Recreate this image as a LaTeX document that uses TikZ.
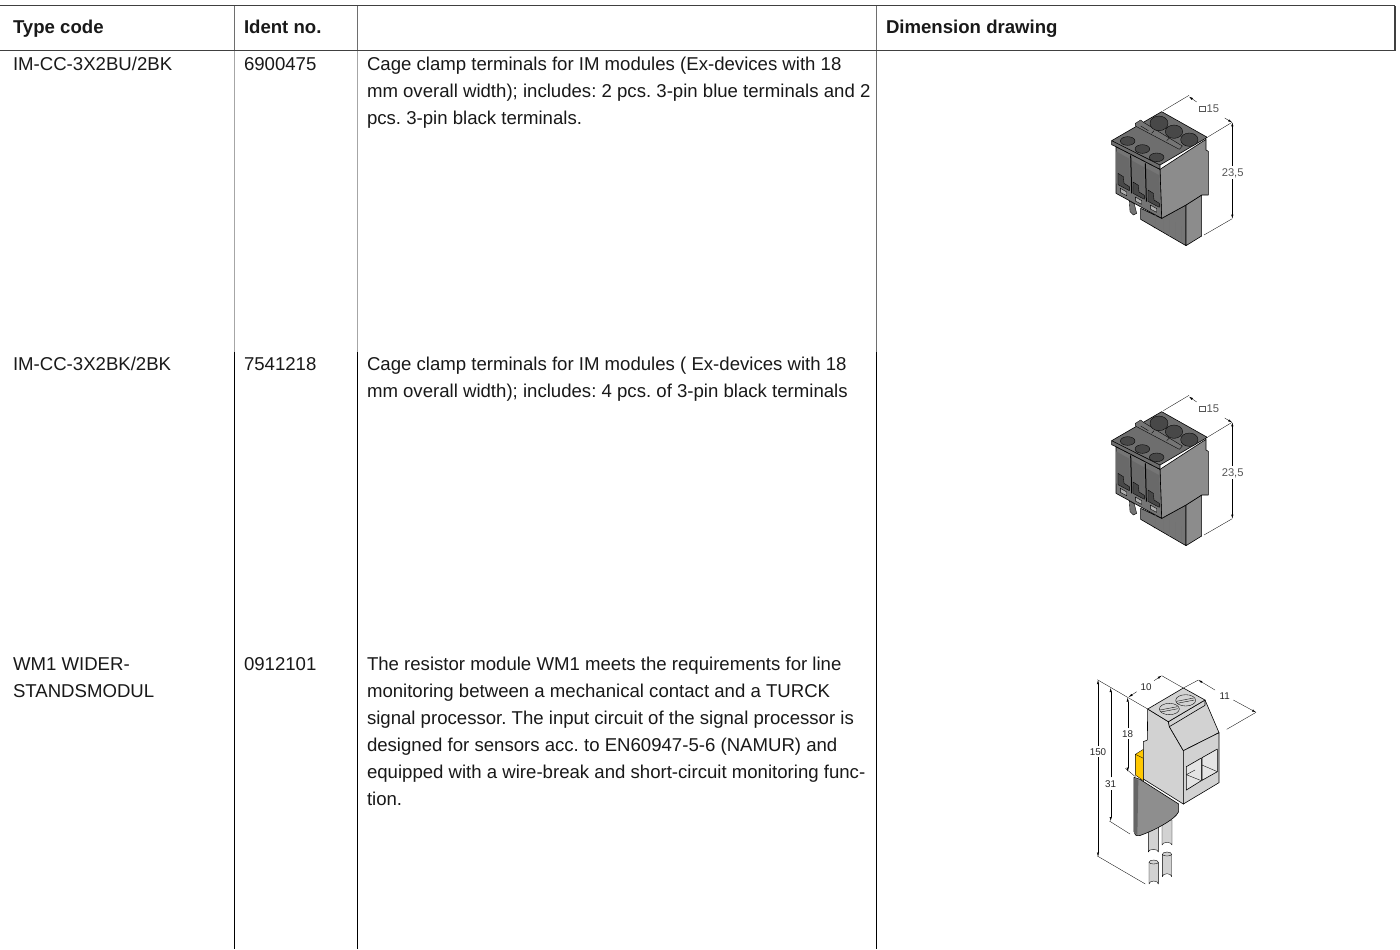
\documentclass[tikz,border=0pt]{standalone}
\usepackage{fontspec}
\setmainfont{Liberation Sans}
\usetikzlibrary{arrows.meta}
\frenchspacing
\definecolor{rule}{HTML}{404040}
\definecolor{midv}{HTML}{6E6E6E}
\definecolor{ttop}{HTML}{6E6E6E}
\definecolor{tside}{HTML}{8C8C8C}
\definecolor{tfront}{HTML}{757575}
\definecolor{tdark}{HTML}{484848}
\definecolor{wlight}{HTML}{D2D2D2}
\definecolor{wgrip}{HTML}{8E8E8E}
\definecolor{wamber}{HTML}{FFC800}
\definecolor{dimtxt}{HTML}{555555}
\tikzset{
  cell/.style={anchor=base west,inner sep=0pt,outer sep=0pt,font=\fontsize{9.3}{11}\selectfont,text=black!90},
  head/.style={cell,font=\fontsize{9.3}{11}\selectfont\bfseries},
  dimlab/.style={inner sep=0pt,outer sep=0pt,text=dimtxt,font=\fontsize{5.6}{6}\selectfont},
  dimlabw/.style={inner sep=0pt,outer sep=0pt,text=black!85,font=\fontsize{4.9}{6}\selectfont},
  ext/.style={line width=0.16pt,draw=black},
  ol/.style={line width=0.3pt,draw=black,line join=round},
  thin ol/.style={line width=0.18pt,draw=black,line join=round},
}
% terminal drawn in 3x-zoom coordinates
\newcommand{\terminal}[2]{%
\begin{scope}[shift={(#1,#2)},x=0.5pt/3,y=-0.5pt/3]
  % pins behind
  \filldraw[fill=tfront,thin ol] (148,362)--(163,372)--(170,400)--(160,405)--(150,395)--cycle;
  \filldraw[fill=tfront,thin ol] (205,395)--(232,410)--(236,432)--(224,444)--(210,425)--cycle;
  % lower block
  \filldraw[fill=tfront,ol] (182,385)--(245,415)--(318,375)--(318,497)--(182,418)--cycle;
  \foreach \xx/\yy in {225/442,248/455,268/467,285/477,302/487}
     \draw[thin ol,draw=black!55] (\xx,\yy)--(\xx,\yy-50);
  \filldraw[fill=tside,ol] (318,375)--(365,345)--(365,468)--(318,497)--cycle;
  % right face
  \filldraw[fill=tside,ol] (240,268)--(378,178)--(378,210)--(385,214)--(385,345)--(365,345)--(318,375)--(245,415)--cycle;
  % front face
  \filldraw[fill=tfront,ol] (108,200)--(240,268)--(245,415)--(108,340)--cycle;
  % slots
  \foreach \dx/\dy in {0/0,45/26,90/50}{
    \begin{scope}[shift={(\dx,\dy)}]
      \fill[fill=tfront!90!black] (108,214)--(148,236)--(150,330)--(108,310)--cycle;
      \filldraw[fill=tdark,thin ol] (114,280)--(130,290)--(132,310)--(148,320)--(148,332)--(114,314)--cycle;
      \filldraw[fill=tside!70!white,thin ol] (121,325)--(140,336)--(140,347)--(121,337)--cycle;
    \end{scope}}
  \draw[line width=0.5pt,draw=black] (152,226)--(155,340) (196,250)--(199,365);
  % top face
  \filldraw[fill=ttop,ol] (95,182)--(245,95)--(382,172)--(240,255)--(240,268)--(108,200)--(95,194)--cycle;
  \draw[ol] (95,182)--(240,255);
  % ridge
  \filldraw[fill=tfront,thin ol] (166,130)--(182,120)--(192,128)--(307,198)--(298,208)--(166,138)--cycle;
  \draw[thin ol] (182,138)--(205,152) (215,160)--(222,152) (260,182)--(268,174);
  % holes
  \filldraw[fill=tdark,thin ol] (143,183) ellipse [x radius=22,y radius=13];
  \filldraw[fill=tdark,thin ol] (187,207) ellipse [x radius=22,y radius=13];
  \filldraw[fill=tdark,thin ol] (230,232) ellipse [x radius=22,y radius=13];
  \filldraw[fill=tdark,thin ol] (237,130) ellipse [x radius=27,y radius=22];
  \filldraw[fill=tdark,thin ol] (282,155) ellipse [x radius=26,y radius=20];
  \filldraw[fill=tdark,thin ol] (328,179) ellipse [x radius=26,y radius=20];
  % dimensions
  \draw[ext] (250,92)--(327,46) (385,170)--(456,127);
  \draw[ext,-{Latex[length=2pt,width=1.1pt]}] (350,66)--(327,50);
  \draw[ext,-{Latex[length=2pt,width=1.1pt]}] (434,114)--(456,127);
  \draw[line width=0.22pt,draw=dimtxt] (358,79) rectangle (375,95);
  \node[dimlab,anchor=west] (a15) at (380,86) {15};
  \node[dimlab] (a235) at (458,280) {23,5};
  \draw[ext,-{Latex[length=2pt,width=1.1pt]}] (457,258)--(457,127);
  \draw[ext,-{Latex[length=2pt,width=1.1pt]}] (457,298)--(457,416);
  \draw[ext] (372,465)--(457,416);
\end{scope}}
\begin{document}
\begin{tikzpicture}[x=0.5pt,y=-0.5pt]
\useasboundingbox (0,0) rectangle (1400,949);
\fill[white] (0,0) rectangle (1400,949);
% rules
\foreach \x in {234.5,357.5,876.5}{
  \draw[midv,line width=0.7pt] (\x,5.5)--(\x,50.5);
  \draw[black!35,line width=0.6pt] (\x,50.5)--(\x,352);
  \draw[black,line width=0.5pt] (\x,352)--(\x,949);
}
\draw[midv,line width=0.6pt] (876.5,50.5)--(876.5,352);
\draw[rule,line width=0.75pt] (0,5.5)--(1395,5.5);
\draw[rule,line width=0.75pt] (0,50.5)--(1395,50.5);
\draw[rule,line width=0.6pt] (1395,5.5)--(1395,50.5);
% header
\node[head] (h1) at (13,33) {Type code};
\node[head] (h2) at (244,33) {Ident no.};
\node[head] (h3) at (886,33) {Dimension drawing};
% row 1
\node[cell] (t1) at (13,70) {IM-CC-3X2BU/2BK};
\node[cell] (i1) at (244,70) {6900475};
\node[cell] (d11) at (367,70) {Cage clamp terminals for IM modules (Ex-devices with 18};
\node[cell] (d12) at (367,97) {mm overall width); includes: 2 pcs. 3-pin blue terminals and 2};
\node[cell] (d13) at (367,124) {pcs. 3-pin black terminals.};
% row 2
\node[cell] (t2) at (13,370) {IM-CC-3X2BK/2BK};
\node[cell] (i2) at (244,370) {7541218};
\node[cell] (d21) at (367,370) {Cage clamp terminals for IM modules ( Ex-devices with 18};
\node[cell] (d22) at (367,397) {mm overall width); includes: 4 pcs. of 3-pin black terminals};
% row 3
\node[cell] (t3) at (13,670) {WM1 WIDER-};
\node[cell] (t3b) at (13,697) {STANDSMODUL};
\node[cell] (i3) at (244,670) {0912101};
\node[cell] (d31) at (367,670) {The resistor module WM1 meets the requirements for line};
\node[cell] (d32) at (367,697) {monitoring between a mechanical contact and a TURCK};
\node[cell] (d33) at (367,724) {signal processor. The input circuit of the signal processor is};
\node[cell] (d34) at (367,751) {designed for sensors acc. to EN60947-5-6 (NAMUR) and};
\node[cell] (d35) at (367,778) {equipped with a wire-break and short-circuit monitoring func-};
\node[cell] (d36) at (367,805) {tion.};
\terminal{1080}{80}
\terminal{1080}{380}
% resistor module (3x-zoom coordinates)
\begin{scope}[shift={(1080,660)},x=0.5pt/3,y=-0.5pt/3]
  % wires
  \filldraw[fill=wlight,thin ol] (205,500)--(205,576) arc[start angle=180,end angle=360,x radius=15,y radius=8]--(235,500)--cycle;
  \filldraw[fill=wlight,thin ol] (246,480)--(246,555) arc[start angle=180,end angle=360,x radius=15,y radius=8]--(276,480)--cycle;
  \filldraw[fill=wlight,thin ol] (207,607)--(207,672) arc[start angle=180,end angle=0,x radius=14,y radius=-9]--(235,607) arc[start angle=0,end angle=180,x radius=14,y radius=-7]--cycle;
  \draw[thin ol] (207,607) arc[start angle=180,end angle=360,x radius=14,y radius=-5];
  \filldraw[fill=wlight,thin ol] (247,583)--(247,650) arc[start angle=180,end angle=0,x radius=14,y radius=-9]--(275,583) arc[start angle=0,end angle=180,x radius=14,y radius=-7]--cycle;
  \draw[thin ol] (247,583) arc[start angle=180,end angle=360,x radius=14,y radius=-5];
  % grip
  \filldraw[fill=wgrip,ol] (162,352)--(180,358)--(296,432)--(296,455) .. controls (285,480) and (215,515) .. (178,527) .. controls (168,528) and (162,524) .. (162,515)--cycle;
  \fill[fill=black!60] (162,355)--(175,360)--(172,525)--(162,518)--cycle;
  % amber tab
  \filldraw[fill=wamber,thin ol] (166,283)--(190,268)--(195,300)--(190,362)--(166,345)--cycle;
  \draw[thin ol] (166,283)--(190,295)--(190,362);
  % main body
  \filldraw[fill=wlight,ol] (203,147)--(265,185)--(268,200)--(310,272)--(310,432)--(190,357)--(190,245)--(202,240)--cycle;
  \filldraw[fill=wlight,ol] (265,185)--(375,120)--(417,218)--(310,272)--(268,200)--cycle;
  \filldraw[fill=wlight,ol] (310,272)--(417,218)--(417,368)--(310,432)--cycle;
  \filldraw[fill=wlight,ol] (203,147)--(310,84)--(375,120)--(265,185)--cycle;
  \draw[ol] (268,200)--(375,136) (375,120)--(375,136);
  % windows
  \filldraw[fill=wlight!60!white,ol] (319,320)--(364,294)--(364,362)--(319,390)--cycle;
  \filldraw[fill=wlight!60!white,ol] (366,293)--(412,267)--(412,335)--(366,361)--cycle;
  \draw[thin ol] (319,344)--(364,362) (366,315)--(412,335) (319,344)--(345,330);
  % screws
  \filldraw[fill=wlight,thin ol] (268,147) ellipse [x radius=30,y radius=17];
  \draw[thin ol] (240,150)--(292,140) (242,156)--(294,146);
  \filldraw[fill=wlight,thin ol] (317,121) ellipse [x radius=30,y radius=17];
  \draw[thin ol] (289,124)--(341,114) (291,130)--(343,120);
  % dimensions
  \draw[ext] (52,59)--(203,147);
  \draw[ext] (245,47)--(310,84);
  \draw[ext] (355,60)--(310,84);
  \draw[ext] (528,157)--(440,208);
  \draw[ext,-{Latex[length=2pt,width=1.1pt]}] (170,95)--(146,111);
  \draw[ext,-{Latex[length=2pt,width=1.1pt]}] (222,62)--(245,47);
  \draw[ext,-{Latex[length=2pt,width=1.1pt]}] (405,90)--(355,60);
  \draw[ext,-{Latex[length=2pt,width=1.1pt]}] (460,120)--(528,157);
  \node[dimlabw] (b10) at (198,82) {10};
  \node[dimlabw] (b11) at (434,107) {11};
  \node[dimlabw] (b18) at (143,222) {18};
  \node[dimlabw] (b31) at (92,372) {31};
  \node[dimlabw] (b150) at (54,275) {150};
  \draw[ext,-{Latex[length=2pt,width=1.1pt]}] (143,205)--(143,113);
  \draw[ext,-{Latex[length=2pt,width=1.1pt]}] (143,238)--(143,335);
  \draw[ext] (136,325)--(166,350);
  \draw[ext,-{Latex[length=2pt,width=1.1pt]}] (92,352)--(92,84);
  \draw[ext,-{Latex[length=2pt,width=1.1pt]}] (92,390)--(92,483);
  \draw[ext] (88,483)--(150,522);
  \draw[ext,-{Latex[length=2pt,width=1.1pt]}] (54,258)--(54,60);
  \draw[ext,-{Latex[length=2pt,width=1.1pt]}] (54,292)--(54,590);
  \draw[ext] (52,588)--(196,672);
\end{scope}
\end{tikzpicture}
\end{document}
